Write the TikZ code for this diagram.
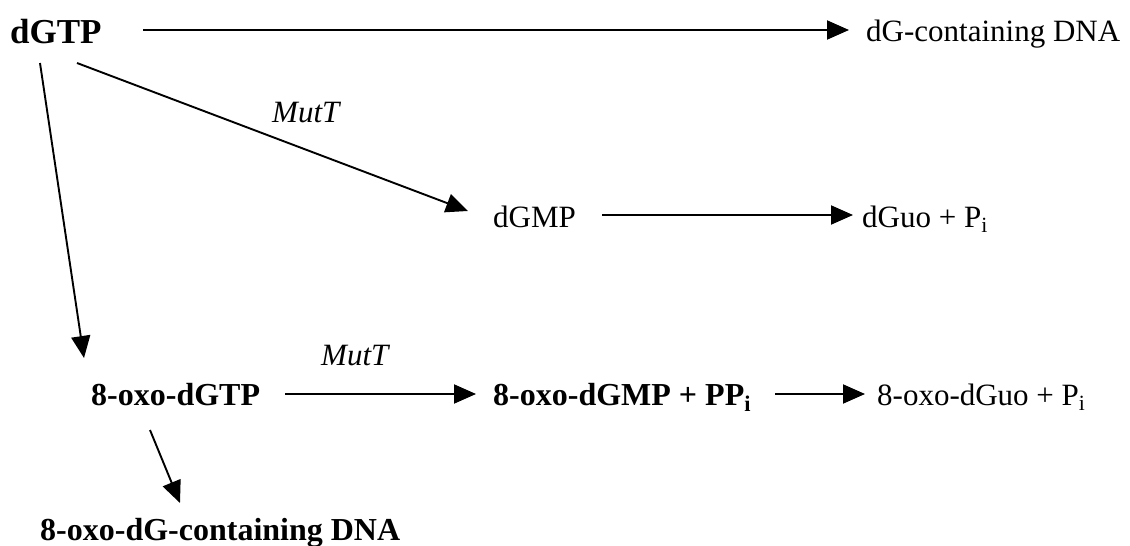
\documentclass[tikz,border=0pt]{standalone}
\usepackage{fontspec}
\setmainfont{Liberation Serif}
\usetikzlibrary{arrows.meta}
\begin{document}
\begin{tikzpicture}[x=1pt,y=-1pt,
  lbl/.style={anchor=base west,inner sep=0pt,font=\fontsize{31}{33}\selectfont},
  blbl/.style={lbl,font=\fontsize{32}{34}\selectfont\bfseries},
  enz/.style={lbl,font=\fontsize{31}{33}\selectfont\itshape},
  arr/.style={line width=1.9pt,-{Triangle[length=22pt,width=19pt]}}]
\useasboundingbox (0,0) rectangle (1130,546);
\node[lbl,font=\fontsize{35}{37}\selectfont\bfseries] (dgtp) at (10,43) {dGTP};
\node[lbl] (dna) at (866,41) {dG-containing DNA};
\node[enz] (mutt1) at (272,122) {MutT};
\node[lbl] (dgmp) at (493,227) {dGMP};
\node[lbl] (dguo) at (862,227) {dGuo + P\textsubscript{i}};
\node[enz] (mutt2) at (321,365) {MutT};
\node[blbl] (odgtp) at (91,405) {8-oxo-dGTP};
\node[blbl] (odgmp) at (493,405) {8-oxo-dGMP + PP\textsubscript{i}};
\node[lbl] (odguo) at (877,405) {8-oxo-dGuo + P\textsubscript{i}};
\node[blbl] (odna) at (40,540) {8-oxo-dG-containing DNA};
\coordinate (a1) at (143,30);
\coordinate (a2) at (849,30);
\draw[arr] (a1) -- (a2);
\coordinate (b1) at (77,63);
\coordinate (b2) at (468,211);
\draw[arr] (b1) -- (b2);
\coordinate (c1) at (40,63);
\coordinate (c2) at (84,358);
\draw[arr] (c1) -- (c2);
\coordinate (d1) at (602,215);
\coordinate (d2) at (853,215);
\draw[arr] (d1) -- (d2);
\coordinate (e1) at (285,394);
\coordinate (e2) at (476,394);
\draw[arr] (e1) -- (e2);
\coordinate (f1) at (775,394);
\coordinate (f2) at (865,394);
\draw[arr] (f1) -- (f2);
\coordinate (g1) at (150,430);
\coordinate (g2) at (180,503);
\draw[arr] (g1) -- (g2);
\end{tikzpicture}
\end{document}
